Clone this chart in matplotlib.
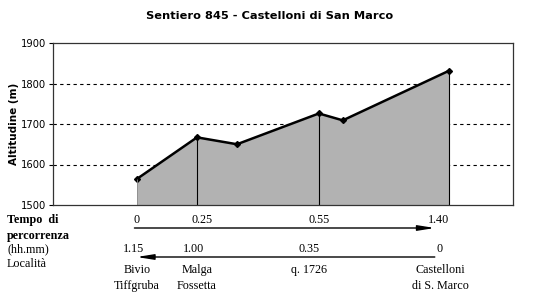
import matplotlib.pyplot as plt
from matplotlib.transforms import blended_transform_factory

# profilo altimetrico (distanza relativa, quota in m)
dist = [1.82, 3.13, 4.00, 5.78, 6.30, 8.60]
quota = [1564, 1667, 1650, 1726, 1709, 1831]

# punti notevoli (indici nel profilo)
tappe = [0, 1, 3, 5]
tempo_andata = ["0", "0.25", "0.55", "1.40"]
tempo_ritorno = ["1.15", "1.00", "0.35", "0"]
localita = ["Bivio\nTiffgruba", "Malga\nFossetta", "q. 1726", "Castelloni\ndi S. Marco"]

fig = plt.figure(figsize=(5.39, 2.93), dpi=100)
ax = fig.add_axes([53 / 539, 1 - 205 / 293, 460 / 539, 162 / 293])

ax.fill_between(dist, quota, 1500, color="#b2b2b2", lw=0)
ax.plot(dist, quota, color="black", lw=1.8, marker="D", ms=3)
for i in [1, 3, 5]:
    ax.vlines(dist[i], 1500, quota[i], color="black", lw=0.8)
ax.vlines(dist[0], 1500, quota[0], color="#888888", lw=0.6)

ax.set_xlim(0, 10)
ax.set_ylim(1500, 1900)
ax.set_yticks([1500, 1600, 1700, 1800, 1900])
ax.set_xticks([])
for y in [1600, 1700, 1800]:
    ax.axhline(y, color="black", lw=0.8, ls=(0, (3, 3)), zorder=0)
ax.tick_params(axis="y", labelsize=7.2, length=3, width=0.8, pad=2)
for s in ax.spines.values():
    s.set_linewidth(0.9)
    s.set_color("#333333")
ax.set_ylabel("Altitudine (m)", fontsize=7.5, fontweight="bold", labelpad=1)
fig.suptitle("Sentiero 845 - Castelloni di San Marco", fontsize=8.2,
             fontweight="bold", y=1 - 16 / 293, va="center")

# tabella sotto il grafico
serif = "Liberation Serif"
tr = blended_transform_factory(ax.transData, fig.transFigure)
def fy(px):
    return 1 - px / 293

fig.text(7 / 539, fy(220), "Tempo  di", family=serif, fontsize=8.7, fontweight="bold", va="center")
fig.text(7 / 539, fy(236), "percorrenza", family=serif, fontsize=8.7, fontweight="bold", va="center")
fig.text(7 / 539, fy(249), "(hh.mm)", family=serif, fontsize=8.7, va="center")
fig.text(7 / 539, fy(264), "Località", family=serif, fontsize=8.7, va="center")

dx_andata = [0.0, 0.11, 0.0, -0.22]
dx_ritorno = [-0.07, -0.08, -0.22, -0.2]
dx_loc = [0.0, 0.0, -0.22, -0.18]
for k, i in enumerate(tappe):
    x = dist[i]
    fig.text(x + dx_andata[k], fy(220), tempo_andata[k], transform=tr, family=serif,
             fontsize=8.7, ha="center", va="center")
    fig.text(x + dx_ritorno[k], fy(249), tempo_ritorno[k], transform=tr, family=serif,
             fontsize=8.7, ha="center", va="center")
    fig.text(x + dx_loc[k], fy(264), localita[k], transform=tr, family=serif,
             fontsize=8.7, ha="center", va="top", linespacing=1.45)

# frecce andata / ritorno
x0, x1 = dist[tappe[0]] - 0.05, dist[tappe[-1]] - 0.3
freccia = dict(arrowstyle="-|>,head_length=1.0,head_width=0.16", color="black",
               lw=1, shrinkA=0, shrinkB=0)
ax.annotate("", xy=(x1, fy(228)), xycoords=tr, xytext=(x0, fy(228)), textcoords=tr,
            arrowprops=freccia, annotation_clip=False)
ax.annotate("", xy=(x0 + 0.05, fy(257)), xycoords=tr, xytext=(x1, fy(257)), textcoords=tr,
            arrowprops=freccia, annotation_clip=False)

fig.savefig("out.png", dpi=100)
